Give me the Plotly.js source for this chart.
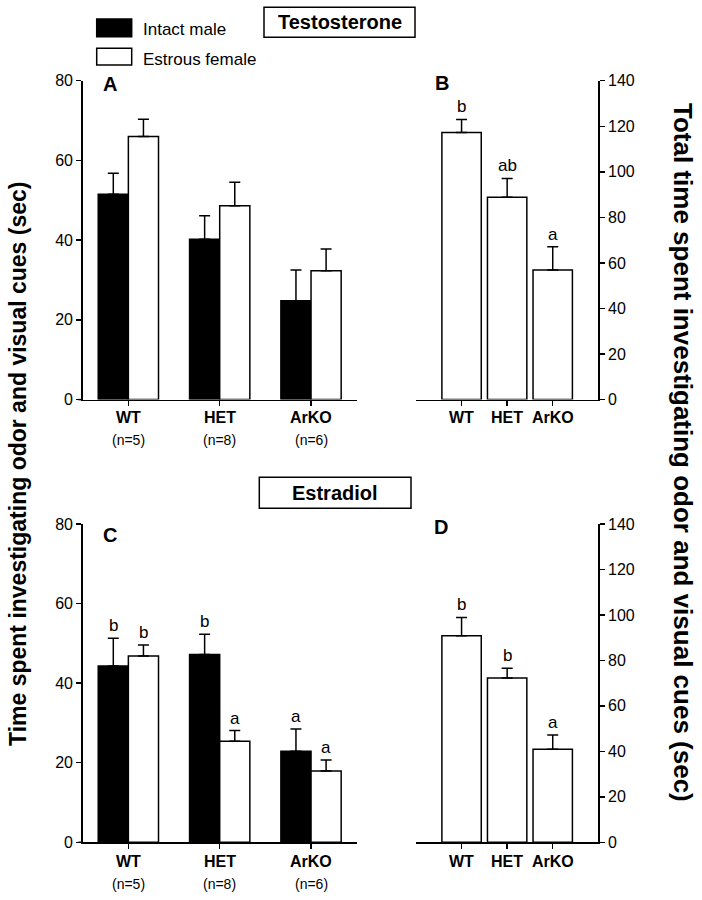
<!DOCTYPE html>
<html>
<head>
<meta charset="utf-8">
<script src="https://cdn.plot.ly/plotly-3.0.1.min.js"></script>
<style>html,body{margin:0;padding:0;background:#fff;}#chart{width:702px;height:900px;}</style>
</head>
<body>
<div id="chart"></div>
<script>
// ---- data ----
const categories = ['WT', 'HET', 'ArKO'];
const nLabels = ['(n=5)', '(n=8)', '(n=6)'];
const seriesNames = ['Intact male', 'Estrous female'];
const panelLetters = ['A', 'B', 'C', 'D'];
const sectionTitles = ['Testosterone', 'Estradiol'];
const leftTitle = 'Time spent investigating odor and visual cues (sec)';
const rightTitle = 'Total time spent investigating odor and visual cues (sec)';

const testMale = [51.5, 40.2, 24.8];
const testMaleErr = [5.3, 5.9, 7.7];
const testFemale = [66.0, 48.6, 32.3];
const testFemaleErr = [4.3, 5.9, 5.5];
const testTotal = [117.3, 88.8, 56.9];
const testTotalErr = [5.7, 8.3, 10.2];
const testTotalLetters = ['b', 'ab', 'a'];

const estMale = [44.3, 47.2, 22.9];
const estMaleErr = [7.0, 5.1, 5.6];
const estMaleLetters = ['b', 'b', 'a'];
const estFemale = [46.8, 25.4, 17.9];
const estFemaleErr = [2.8, 2.7, 2.8];
const estFemaleLetters = ['b', 'a', 'a'];
const estTotal = [90.9, 72.3, 40.9];
const estTotalErr = [8.0, 4.2, 6.3];
const estTotalLetters = ['b', 'b', 'a'];

// ---- helpers ----
const W = 702, H = 900;
const px = x => x / W;
const py = y => 1 - y / H;
const FONT = 'Liberation Sans, Arial, sans-serif';
const LW = 1.5;

function errBar(arr) {
  return {type: 'data', symmetric: false, array: arr, arrayminus: arr.map(() => 0),
          color: 'black', thickness: LW, width: 5.5};
}
function barTrace(xa, ya, vals, err, fill, offset, width, name) {
  return {type: 'bar', x: categories, y: vals, xaxis: xa, yaxis: ya, name: name,
          offset: offset, width: width, showlegend: false,
          marker: {color: fill, line: {color: 'black', width: LW}},
          error_y: errBar(err), hoverinfo: 'skip'};
}

const data = [
  barTrace('x', 'y', testMale, testMaleErr, 'black', -0.33, 0.33, seriesNames[0]),
  barTrace('x', 'y', testFemale, testFemaleErr, 'white', 0, 0.33, seriesNames[1]),
  barTrace('x2', 'y2', testTotal, testTotalErr, 'white', -0.432, 0.864, 'Total'),
  barTrace('x3', 'y3', estMale, estMaleErr, 'black', -0.33, 0.33, seriesNames[0]),
  barTrace('x3', 'y3', estFemale, estFemaleErr, 'white', 0, 0.33, seriesNames[1]),
  barTrace('x4', 'y4', estTotal, estTotalErr, 'white', -0.432, 0.864, 'Total')
];

function xax(dom, range, anchor) {
  return {domain: dom, range: range, anchor: anchor, type: 'category',
          showline: true, linecolor: 'black', linewidth: LW,
          ticks: 'outside', ticklen: 5, tickwidth: LW, tickcolor: 'black',
          showticklabels: false, showgrid: false, zeroline: false, fixedrange: true};
}
function yax(dom, range, anchor, side) {
  return {domain: dom, range: range, anchor: anchor, side: side,
          showline: true, linecolor: 'black', linewidth: LW,
          ticks: 'outside', ticklen: 5, tickwidth: LW, tickcolor: 'black',
          dtick: 20, tick0: 0, tickfont: {family: FONT, size: 16, color: 'black'},
          showgrid: false, zeroline: false, fixedrange: true};
}

const xA = [px(82.7), px(356.7)];
const xB = [px(416), px(598.3)];
const yTop = [py(399.6), py(80.7)];
const yBot = [py(842.3), py(524)];

const annotations = [];
const shapes = [];

function ann(o) {
  annotations.push(Object.assign({showarrow: false, xanchor: 'center', yanchor: 'middle',
    font: {family: FONT, size: 16, color: 'black'}}, o));
}

// category labels and n labels
[['x', 417, 440], ['x3', 861, 884]].forEach(([xa, yc, yn]) => {
  categories.forEach((c, i) => {
    ann({xref: xa, yref: 'paper', x: c, y: py(yc), text: '<b>' + c + '</b>',
         font: {family: FONT, size: 16, color: 'black'}});
    ann({xref: xa, yref: 'paper', x: c, y: py(yn), text: nLabels[i],
         font: {family: FONT, size: 14, color: 'black'}});
  });
});
[['x2', 417], ['x4', 861]].forEach(([xa, yc]) => {
  categories.forEach(c => {
    ann({xref: xa, yref: 'paper', x: c, y: py(yc), text: '<b>' + c + '</b>',
         font: {family: FONT, size: 16, color: 'black'}});
  });
});

// significance letters
function letters(xa, ya, vals, err, lets, shift) {
  lets.forEach((l, i) => {
    annotations.push({xref: xa, yref: ya, x: categories[i], y: vals[i] + err[i],
      xshift: shift, yshift: 1, text: l, showarrow: false, xanchor: 'center', yanchor: 'bottom',
      font: {family: FONT, size: 17, color: 'black'}});
  });
}
letters('x2', 'y2', testTotal, testTotalErr, testTotalLetters, 0);
letters('x3', 'y3', estMale, estMaleErr, estMaleLetters, -15);
letters('x3', 'y3', estFemale, estFemaleErr, estFemaleLetters, 15);
letters('x4', 'y4', estTotal, estTotalErr, estTotalLetters, 0);

// panel letters
[[110, 84], [441.7, 83.3], [110, 535], [440.7, 526.7]].forEach(([x, y], i) => {
  ann({xref: 'paper', yref: 'paper', x: px(x), y: py(y), text: '<b>' + panelLetters[i] + '</b>',
       font: {family: FONT, size: 20, color: 'black'}});
});

// section title boxes
[[264, 415, 7.3, 37.3], [259.3, 411, 477.3, 508.3]].forEach(([x0, x1, y0, y1], i) => {
  shapes.push({type: 'rect', xref: 'paper', yref: 'paper', x0: px(x0), x1: px(x1), y0: py(y1), y1: py(y0),
               line: {color: 'black', width: LW}, fillcolor: 'white'});
  ann({xref: 'paper', yref: 'paper', x: px((x0 + x1) / 2), y: py((y0 + y1) / 2),
       text: '<b>' + sectionTitles[i] + '</b>', font: {family: FONT, size: 20, color: 'black'}});
});

// legend
[['black', 19, 36.7, 30], ['white', 48.3, 65, 59.3]].forEach(([fill, y0, y1, yt], i) => {
  shapes.push({type: 'rect', xref: 'paper', yref: 'paper', x0: px(96.7), x1: px(131.7), y0: py(y1), y1: py(y0),
               line: {color: 'black', width: LW}, fillcolor: fill});
  ann({xref: 'paper', yref: 'paper', x: px(140.7), y: py(yt), xanchor: 'left', text: seriesNames[i],
       font: {family: FONT, size: 17, color: 'black'}});
});

// x-axis stub extending left of the y-axis in A and C
[399.6, 842.3].forEach(y => {
  shapes.push({type: 'line', xref: 'paper', yref: 'paper', x0: px(78.3), x1: px(82.7), y0: py(y), y1: py(y),
               line: {color: 'black', width: LW}});
});

// axis titles
ann({xref: 'paper', yref: 'paper', x: px(18), y: py(464), textangle: -90, text: '<b>' + leftTitle + '</b>',
     font: {family: FONT, size: 23, color: 'black'}});
ann({xref: 'paper', yref: 'paper', x: px(683), y: py(452), textangle: 90, text: '<b>' + rightTitle + '</b>',
     font: {family: FONT, size: 26, color: 'black'}});

const layout = {
  width: W, height: H, margin: {l: 0, r: 0, t: 0, b: 0},
  paper_bgcolor: 'white', plot_bgcolor: 'rgba(0,0,0,0)',
  barmode: 'overlay', showlegend: false,
  font: {family: FONT, color: 'black'},
  xaxis: xax(xA, [-0.5, 2.5], 'y'),
  yaxis: yax(yTop, [0, 80], 'x', 'left'),
  xaxis2: xax(xB, [-1, 3], 'y2'),
  yaxis2: yax(yTop, [0, 140], 'x2', 'right'),
  xaxis3: xax(xA, [-0.5, 2.5], 'y3'),
  yaxis3: yax(yBot, [0, 80], 'x3', 'left'),
  xaxis4: xax(xB, [-1, 3], 'y4'),
  yaxis4: yax(yBot, [0, 140], 'x4', 'right'),
  annotations: annotations,
  shapes: shapes
};

Plotly.newPlot('chart', data, layout, {staticPlot: true, displayModeBar: false});
</script>
</body>
</html>
